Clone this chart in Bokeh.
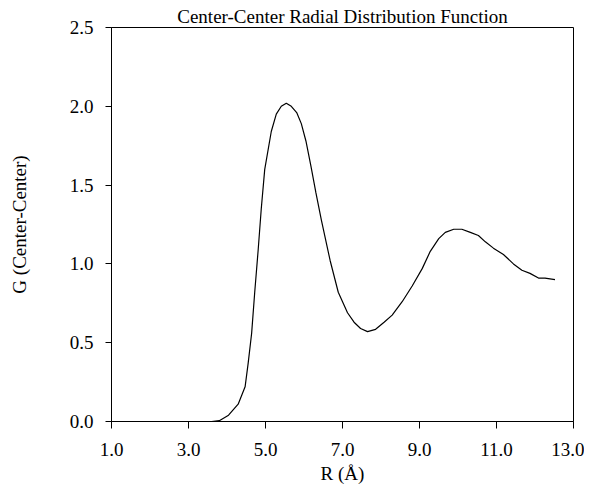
from bokeh.plotting import figure
from bokeh.models import Range1d, FixedTicker, NumeralTickFormatter
from bokeh.embed import file_html
from bokeh.resources import INLINE

# Data
r = [1.0, 2.0, 3.0, 3.6, 3.8, 4.04, 4.29, 4.47, 4.55, 4.64, 4.72, 4.81, 4.89,
     4.98, 5.15, 5.28, 5.41, 5.54, 5.67, 5.81, 5.93, 6.05, 6.18, 6.31, 6.45,
     6.68, 6.89, 7.13, 7.30, 7.47, 7.65, 7.86, 8.08, 8.29, 8.55, 8.81, 9.07,
     9.28, 9.50, 9.67, 9.89, 10.10, 10.32, 10.53, 10.71, 10.92, 11.18, 11.44,
     11.66, 11.87, 12.09, 12.26, 12.52]
g = [0.0, 0.0, 0.0, 0.0, 0.005, 0.04, 0.11, 0.22, 0.37, 0.56, 0.82, 1.09, 1.35,
     1.60, 1.84, 1.95, 2.00, 2.02, 2.00, 1.96, 1.89, 1.78, 1.62, 1.45, 1.28,
     1.02, 0.82, 0.69, 0.63, 0.59, 0.57, 0.585, 0.63, 0.675, 0.76, 0.86, 0.97,
     1.08, 1.16, 1.20, 1.22, 1.22, 1.20, 1.18, 1.14, 1.10, 1.06, 1.00,
     0.96, 0.94, 0.91, 0.91, 0.90]

x_ticks = [1, 3, 5, 7, 9, 11, 13]
y_ticks = [0, 0.5, 1.0, 1.5, 2.0, 2.5]

FONT = "Liberation Serif"

p = figure(width=584, height=486, output_backend="svg", toolbar_location=None,
           x_range=Range1d(1, 13), y_range=Range1d(0, 2.5),
           title="Center-Center Radial Distribution Function",
           min_border_left=111, min_border_right=11, min_border_top=27,
           min_border_bottom=64)

p.title.align = "center"
p.title.text_font = FONT
p.title.text_font_size = "19px"
p.title.text_font_style = "normal"
p.title.text_color = "black"
p.title.offset = 0
p.title.standoff = 1

p.xgrid.visible = False
p.ygrid.visible = False
p.outline_line_color = "black"
p.outline_line_width = 1
p.background_fill_color = "white"
p.border_fill_color = "white"

for ax in (p.xaxis[0], p.yaxis[0]):
    ax.major_label_text_font = FONT
    ax.major_label_text_font_size = "19px"
    ax.major_label_text_color = "black"
    ax.axis_label_text_font = FONT
    ax.axis_label_text_font_size = "19px"
    ax.axis_label_text_font_style = "normal"
    ax.axis_label_text_color = "black"
    ax.major_tick_in = 0
    ax.minor_tick_out = 0
    ax.minor_tick_in = 0
    ax.axis_line_color = "black"
    ax.major_tick_line_color = "black"
    ax.formatter = NumeralTickFormatter(format="0.0")

p.xaxis.major_tick_out = 7
p.yaxis.major_tick_out = 6
p.xaxis.ticker = FixedTicker(ticks=x_ticks)
p.yaxis.ticker = FixedTicker(ticks=y_ticks)
p.xaxis.axis_label = "R (Å)"
p.yaxis.axis_label = "G (Center-Center)"
p.xaxis.major_label_standoff = 14
p.xaxis.axis_label_standoff = 4
p.yaxis.major_label_standoff = 12
p.yaxis.axis_label_standoff = 37

p.line(r, g, line_color="black", line_width=1.2)

open("out.html", "w").write(file_html(p, INLINE))
